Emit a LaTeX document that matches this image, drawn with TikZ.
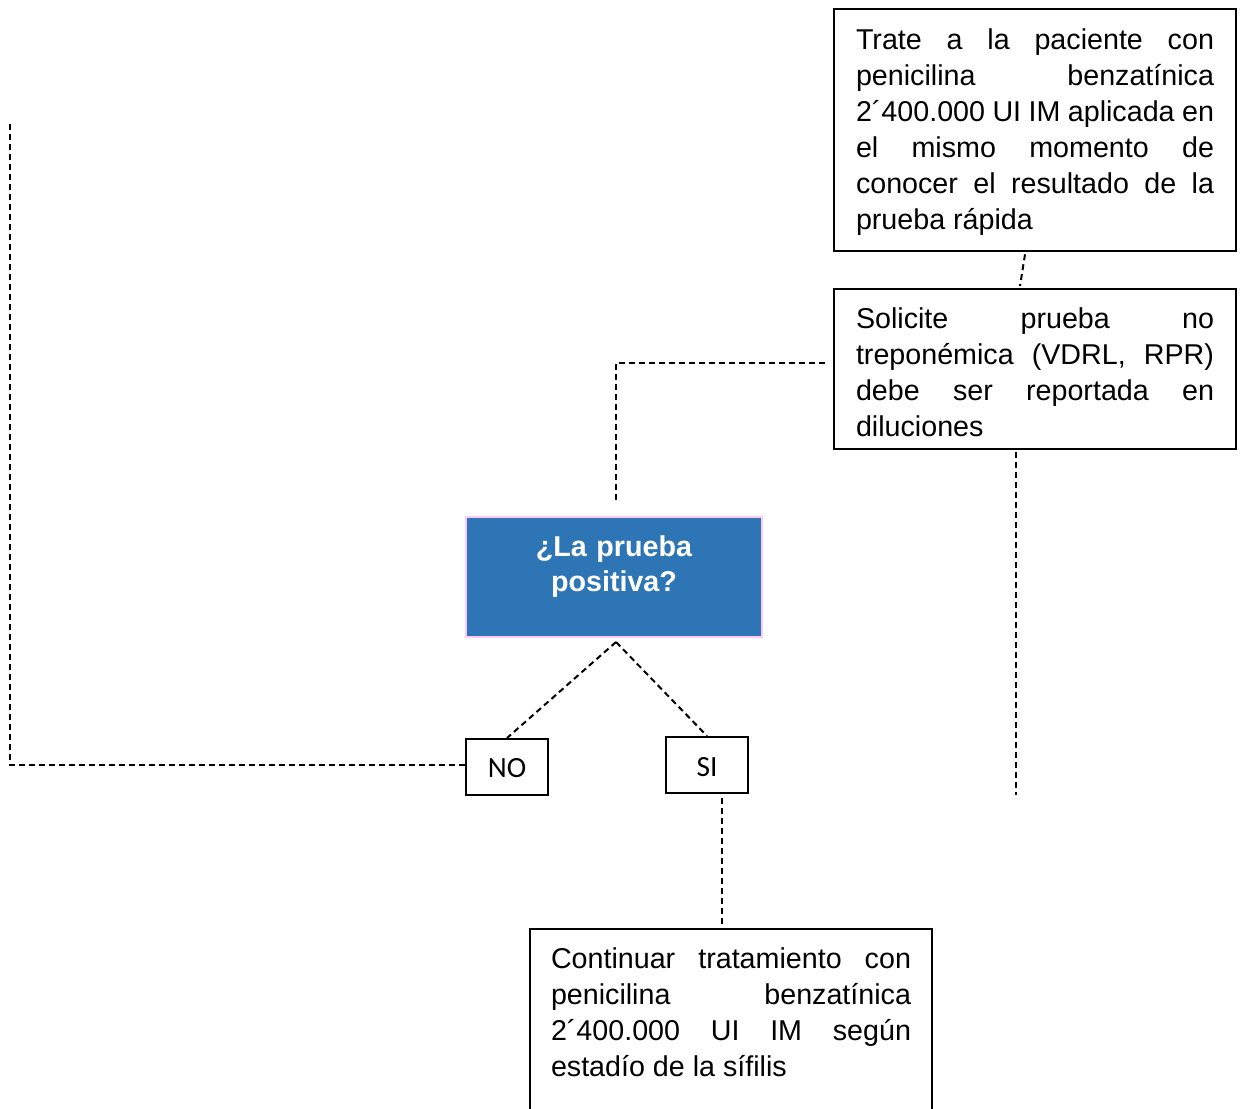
\documentclass[tikz,border=0pt]{standalone}
\usepackage{fontspec}
\setmainfont{Liberation Sans}
\newfontfamily\calibrifont{Carlito}
\usepackage{xcolor}
\definecolor{azulcaja}{HTML}{2E75B6}
\definecolor{rosaborde}{HTML}{FFC8FF}
\usepackage{tikz}
\usetikzlibrary{calc}

\begin{document}
\begin{tikzpicture}[x=0.75pt,y=-0.75pt,line width=1.5pt]
            \tikzstyle{caja}=[draw,line width=1.75pt,text width=268.5pt,inner xsep=16.5pt,inner ysep=0pt,align=justify,font=\fontsize{21.5}{27}\selectfont]
            \tikzstyle{sino}=[draw,line width=1.75pt,minimum width=61.5pt,inner ysep=0pt,font=\calibrifont\fontsize{22}{26}\selectfont]
            \tikzstyle{guion}=[dash pattern=on 4.5pt off 3pt]

            \useasboundingbox (0,0) rectangle (1241,1108);

            \node[caja,anchor=north,text height=30pt,text depth=151.5pt] (trate) at (1035,8)
                {Trate a la paciente con\linebreak penicilina benzatínica\linebreak 2´400.000 UI IM aplicada en\linebreak el mismo momento de\linebreak conocer el resultado de la\linebreak prueba rápida};
            \node[caja,anchor=north,text height=29.25pt,text depth=90.75pt] (solicite) at (1035,288)
                {Solicite prueba no\linebreak treponémica (VDRL, RPR)\linebreak debe ser reportada en\linebreak diluciones};
            \node[draw=rosaborde,fill=azulcaja,text=white,line width=1.5pt,text width=222pt,inner sep=0pt,align=center,
                  text height=29.25pt,text depth=60.75pt,font=\bfseries\fontsize{21.5}{26.5}\selectfont] (pregunta) at (614,516)
                [anchor=north] {¿La prueba\\positiva?};
            \node[sino,anchor=north,text height=28.5pt,text depth=13.5pt] (no) at (507,738) {NO};
            \node[sino,anchor=north,text height=29.25pt,text depth=12.75pt] (si) at (707,736) {SI};
            \node[caja,anchor=north,text width=270pt,inner xsep=15.75pt,text height=29.25pt,text depth=115pt] (continuar) at (731,928)
                {Continuar tratamiento con\linebreak penicilina benzatínica\linebreak 2´400.000 UI IM según\linebreak estadío de la sífilis};

            \coordinate (arriba) at (10,122);
            \coordinate (libre) at (1016,795);

            \path[guion]
                ($(trate.south)+(-10,2)$) edge ($(solicite.north)+(-15,-2)$)
                ($(pregunta.south)+(2,4)$) edge (no.north)
                ($(pregunta.south)+(2,4)$) edge (si.north)
                ($(si.south)+(15,4)$) edge ($(continuar.north)+(-9,-3)$)
                ($(solicite.south)+(-19,2)$) edge (libre);
            \draw[guion] ($(solicite.west)+(-8,-6)$) -| ($(pregunta.north)+(2,-13)$);
            \draw[guion] ($(no.west)+(0,-2)$) -| (arriba);
\end{tikzpicture}
\end{document}
